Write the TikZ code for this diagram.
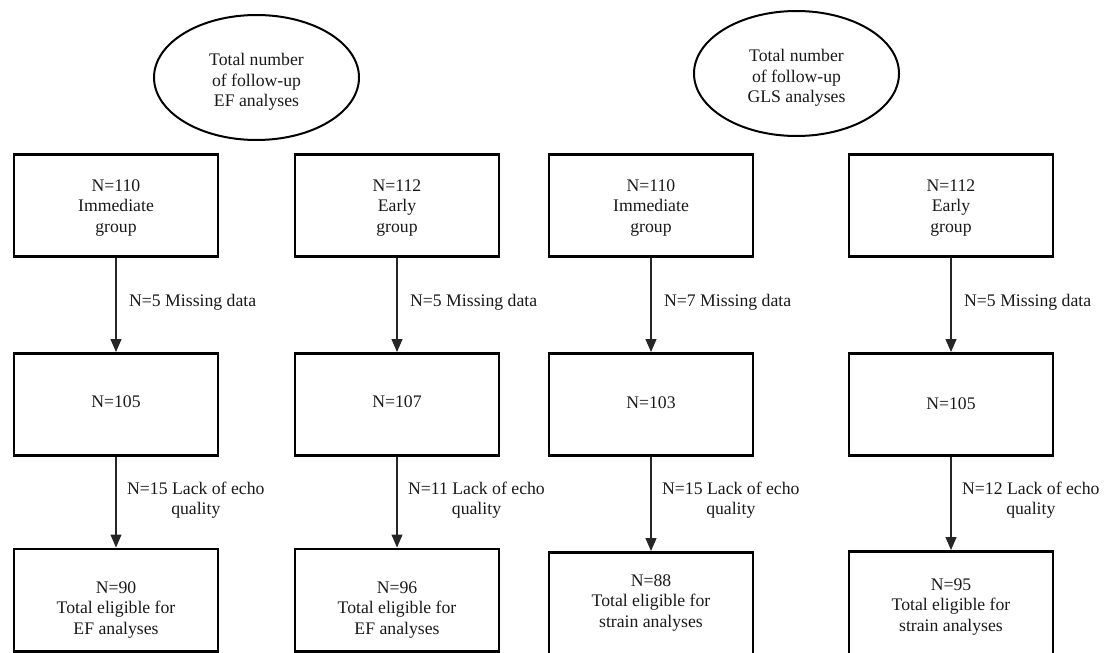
\documentclass[tikz,border=0pt]{standalone}
\usepackage{fontspec}
\setmainfont{Liberation Serif}
\usetikzlibrary{arrows.meta,shapes.geometric}
\begin{document}
\begin{tikzpicture}[x=1pt,y=-1pt,
  box/.style={draw=black, line width=2.6pt, minimum width=204pt, minimum height=102.4pt, inner sep=0pt},
  oval/.style={draw=black, line width=2pt, ellipse, minimum width=205pt, minimum height=125pt, inner sep=0pt},
  txt/.style={align=center, font=\fontsize{17.7}{20.5}\selectfont, inner sep=0pt, text=black!90},
  lbl/.style={txt, anchor=west},
  arr/.style={draw=black!85, line width=1.2pt, -{Triangle[length=13pt,width=11pt]}}
]
\useasboundingbox (0,0) rectangle (1108,653);

% ovals
\node[oval] (o1) at (256.5,77.5) {};
\node[txt] (ot1) at (256.5,82) {Total number\\of follow-up\\EF analyses};
\node[oval] (o2) at (796.5,73.5) {};
\node[txt] (ot2) at (796.5,78) {Total number\\of follow-up\\GLS analyses};

% row 1
\node[box] (b11) at (116,205.5) {};
\node[box] (b12) at (397,205.5) {};
\node[box] (b13) at (651,205.5) {};
\node[box] (b14) at (951,205.5) {};
\node[txt] (t11) at (116,208) {N=110\\Immediate\\group};
\node[txt] (t12) at (397,208) {N=112\\Early\\group};
\node[txt] (t13) at (651,208) {N=110\\Immediate\\group};
\node[txt] (t14) at (951,208) {N=112\\Early\\group};

% row 2
\node[box] (b21) at (116,404.5) {};
\node[box] (b22) at (397,404.5) {};
\node[box] (b23) at (651,404.5) {};
\node[box] (b24) at (951,404.5) {};
\node[txt] (t21) at (116,402) {N=105};
\node[txt] (t22) at (397,402) {N=107};
\node[txt] (t23) at (651,403) {N=103};
\node[txt] (t24) at (951,404) {N=105};

% row 3
\node[box] (b31) at (116,600) {};
\node[box] (b32) at (397,600) {};
\node[box, minimum height=106pt] (b33) at (651,605.3) {};
\node[box, minimum height=106pt] (b34) at (951,604.3) {};
\node[txt] (t31) at (116,610) {N=90\\Total eligible for\\EF analyses};
\node[txt] (t32) at (397,610) {N=96\\Total eligible for\\EF analyses};
\node[txt] (t33) at (651,603) {N=88\\Total eligible for\\strain analyses};
\node[txt] (t34) at (951,607) {N=95\\Total eligible for\\strain analyses};

% arrows row 1 -> row 2
\draw[arr] (b11.south) -- (b21.north);
\draw[arr] (b12.south) -- (b22.north);
\draw[arr] (b13.south) -- (b23.north);
\draw[arr] (b14.south) -- (b24.north);
\node[lbl] (l11) at (129,302) {N=5 Missing data};
\node[lbl] (l12) at (410,302) {N=5 Missing data};
\node[lbl] (l13) at (664,302) {N=7 Missing data};
\node[lbl] (l14) at (964,302) {N=5 Missing data};

% arrows row 2 -> row 3
\draw[arr] (b21.south) -- (b31.north);
\draw[arr] (b22.south) -- (b32.north);
\draw[arr] (b23.south) -- (b33.north);
\draw[arr] (b24.south) -- (b34.north);
\node[lbl] (l21) at (127,500) {N=15 Lack of echo\\quality};
\node[lbl] (l22) at (408,500) {N=11 Lack of echo\\quality};
\node[lbl] (l23) at (662,500) {N=15 Lack of echo\\quality};
\node[lbl] (l24) at (962,500) {N=12 Lack of echo\\quality};
\end{tikzpicture}
\end{document}
